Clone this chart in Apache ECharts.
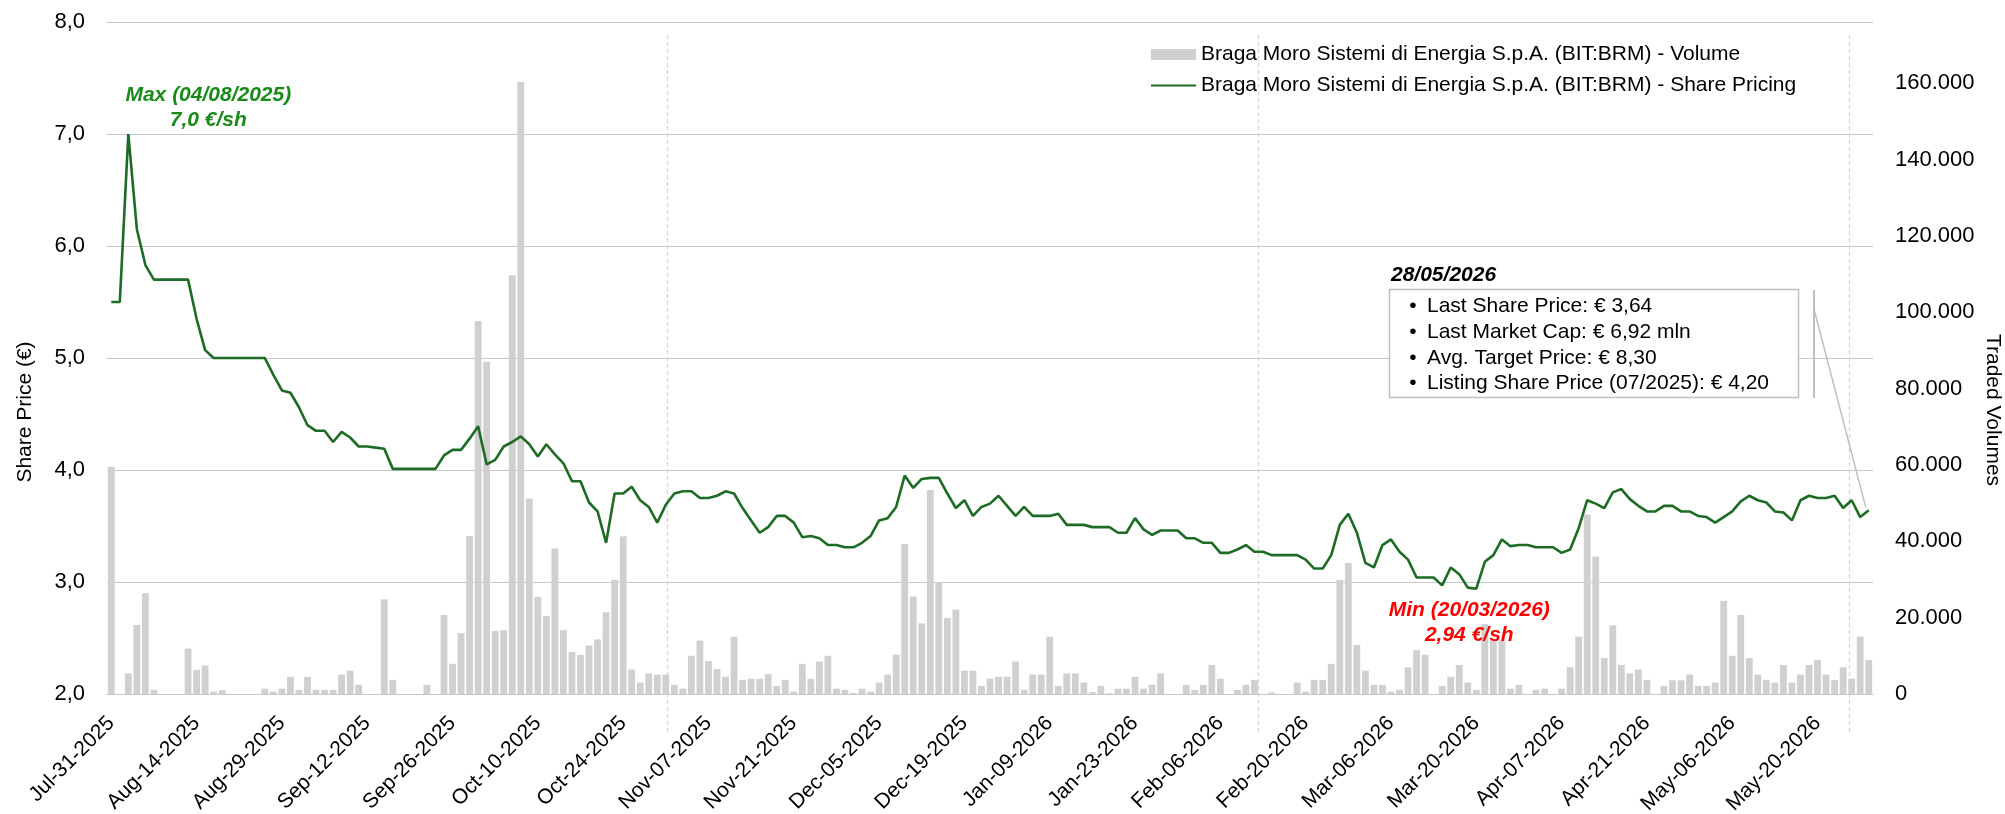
<!DOCTYPE html>
<html>
<head>
<meta charset="utf-8">
<title>Braga Moro Sistemi di Energia - Share Price</title>
<script src="https://cdn.jsdelivr.net/npm/echarts@6/dist/echarts.min.js"></script>
<style>
html, body { margin: 0; padding: 0; background: #fff; }
#chart { width: 2005px; height: 814px; }
</style>
</head>
<body>
<div id="chart"></div>
<script>
// trading calendar (Borsa Italiana), Jul 31 2025 -> May 28 2026
var firstDay = '2025-07-31';
var lastDay = '2026-05-28';
var marketHolidays = ['2025-08-15', '2025-12-24', '2025-12-25', '2025-12-26', '2025-12-31',
    '2026-01-01', '2026-04-03', '2026-04-06', '2026-05-01'];
var monthNames = ['Jan', 'Feb', 'Mar', 'Apr', 'May', 'Jun', 'Jul', 'Aug', 'Sep', 'Oct', 'Nov', 'Dec'];

// closing price, € per share
var sharePrice = [
    5.50, 5.50, 7.00, 6.15, 5.83, 5.70, 5.70, 5.70, 5.70, 5.70,
    5.35, 5.07, 5.00, 5.00, 5.00, 5.00, 5.00, 5.00, 5.00, 4.85,
    4.71, 4.69, 4.56, 4.40, 4.35, 4.35, 4.25, 4.34, 4.29, 4.21,
    4.21, 4.20, 4.19, 4.01, 4.01, 4.01, 4.01, 4.01, 4.01, 4.13,
    4.18, 4.18, 4.28, 4.39, 4.05, 4.09, 4.21, 4.25, 4.30, 4.23,
    4.12, 4.23, 4.14, 4.06, 3.90, 3.90, 3.71, 3.63, 3.35, 3.79,
    3.79, 3.85, 3.73, 3.67, 3.53, 3.69, 3.79, 3.81, 3.81, 3.75,
    3.75, 3.77, 3.81, 3.79, 3.66, 3.55, 3.44, 3.49, 3.59, 3.59,
    3.53, 3.40, 3.41, 3.39, 3.33, 3.33, 3.31, 3.31, 3.35, 3.41,
    3.55, 3.57, 3.67, 3.95, 3.84, 3.92, 3.93, 3.93, 3.79, 3.66,
    3.73, 3.59, 3.67, 3.70, 3.77, 3.68, 3.59, 3.67, 3.59, 3.59,
    3.59, 3.61, 3.51, 3.51, 3.51, 3.49, 3.49, 3.49, 3.44, 3.44,
    3.57, 3.47, 3.42, 3.46, 3.46, 3.46, 3.39, 3.39, 3.35, 3.35,
    3.26, 3.26, 3.29, 3.33, 3.27, 3.27, 3.24, 3.24, 3.24, 3.24,
    3.20, 3.12, 3.12, 3.24, 3.51, 3.61, 3.44, 3.17, 3.13, 3.33,
    3.38, 3.27, 3.20, 3.04, 3.04, 3.04, 2.97, 3.13, 3.07, 2.95,
    2.94, 3.18, 3.24, 3.38, 3.32, 3.33, 3.33, 3.31, 3.31, 3.31,
    3.26, 3.29, 3.48, 3.73, 3.70, 3.66, 3.80, 3.83, 3.74, 3.68,
    3.63, 3.63, 3.68, 3.68, 3.63, 3.63, 3.59, 3.58, 3.53, 3.58,
    3.63, 3.72, 3.77, 3.73, 3.71, 3.63, 3.62, 3.55, 3.73, 3.77,
    3.75, 3.75, 3.77, 3.66, 3.73, 3.58, 3.64
];

// traded volumes, shares
var tradedVolume = [
    59500, 0, 5400, 18100, 26400, 1100, 0, 0, 0, 11900,
    6300, 7500, 600, 1000, 0, 0, 0, 0, 1400, 600,
    1400, 4500, 1100, 4500, 1100, 1100, 1100, 5100, 6100, 2400,
    0, 0, 24800, 3700, 0, 0, 0, 2400, 0, 20700,
    7900, 15900, 41400, 97700, 87000, 16500, 16700, 109700, 160300, 51200,
    25400, 20400, 38100, 16700, 11000, 10200, 12700, 14300, 21400, 29900,
    41300, 6400, 3000, 5400, 5100, 5100, 2400, 1400, 10000, 14000,
    8600, 6500, 4500, 15000, 3700, 4000, 4000, 5200, 2100, 3700,
    600, 7900, 4000, 8500, 10000, 1400, 1100, 300, 1400, 600,
    3000, 5100, 10300, 39300, 25500, 18500, 53400, 29300, 19900, 22100,
    6100, 6100, 2100, 4000, 4500, 4500, 8500, 1100, 5100, 5100,
    15000, 2100, 5400, 5400, 3000, 500, 2100, 200, 1400, 1400,
    4500, 1400, 2400, 5400, 0, 0, 2400, 1100, 2400, 7600,
    4000, 0, 1100, 2400, 3700, 0, 400, 0, 0, 3000,
    600, 3700, 3700, 7900, 29900, 34300, 12800, 6100, 2400, 2400,
    600, 1100, 7000, 11500, 10300, 0, 2100, 4500, 7600, 3000,
    1100, 18300, 14000, 14000, 1400, 2400, 0, 1100, 1400, 0,
    1400, 7000, 15000, 47000, 36000, 9400, 18000, 7600, 5400, 6400,
    3700, 0, 2100, 3600, 3600, 5100, 2100, 2100, 3000, 24400,
    10000, 20700, 9400, 5100, 3700, 3000, 7600, 3000, 5100, 7600,
    8900, 5100, 3700, 7000, 4000, 15000, 8900
];

// dashed separators, in category units
var dividerAt = [65.1, 134.4, 203.7];

var infoDate = '28/05/2026';
var infoLines = [
    'Last Share Price: € 3,64',
    'Last Market Cap: € 6,92 mln',
    'Avg. Target Price: € 8,30',
    'Listing Share Price (07/2025): € 4,20'
];

var volName = 'Braga Moro Sistemi di Energia S.p.A. (BIT:BRM) - Volume';
var priceName = 'Braga Moro Sistemi di Energia S.p.A. (BIT:BRM) - Share Pricing';
var fontName = '"Liberation Sans", Arial, Helvetica, sans-serif';

function buildTradingDays(start, end, holidays) {
    var out = [];
    var d = new Date(start + 'T00:00:00Z');
    var stop = new Date(end + 'T00:00:00Z');
    while (d <= stop) {
        var iso = d.toISOString().slice(0, 10);
        var wd = d.getUTCDay();
        if (wd !== 0 && wd !== 6 && holidays.indexOf(iso) < 0) {
            var dd = ('0' + d.getUTCDate()).slice(-2);
            out.push(monthNames[d.getUTCMonth()] + '-' + dd + '-' + d.getUTCFullYear());
        }
        d.setUTCDate(d.getUTCDate() + 1);
    }
    return out;
}

function fmtThousands(v) {
    return String(Math.round(v)).replace(/\B(?=(\d{3})+(?!\d))/g, '.');
}

var tradingDays = buildTradingDays(firstDay, lastDay, marketHolidays);

var chart = echarts.init(document.getElementById('chart'), null, { renderer: 'canvas' });

var option = {
    animation: false,
    backgroundColor: '#fff',
    textStyle: { fontFamily: fontName },
    grid: { left: 107, right: 132, top: 22, bottom: 120, containLabel: false, outerBoundsMode: 'none' },
    legend: {
        orient: 'vertical',
        left: 1150,
        top: 44,
        padding: 0,
        itemWidth: 45,
        itemHeight: 11,
        itemGap: 10,
        textStyle: { fontSize: 21, color: '#000', fontFamily: fontName },
        data: [
            { name: volName, icon: 'rect' },
            // line only, no marker in the key
            { name: priceName, itemStyle: { color: 'rgba(0,0,0,0)', borderColor: 'rgba(0,0,0,0)', borderWidth: 0, opacity: 0 } }
        ]
    },
    xAxis: [{
        type: 'category',
        data: tradingDays,
        boundaryGap: true,
        axisTick: { show: false },
        axisLine: { show: true, lineStyle: { color: '#c8c8c8', width: 1 } },
        axisLabel: { interval: 9, rotate: 45, fontSize: 21, color: '#000', margin: 26, fontFamily: fontName },
        splitLine: { show: false }
    }],
    yAxis: [{
        type: 'value',
        min: 2,
        max: 8,
        interval: 1,
        axisLine: { show: false },
        axisTick: { show: false },
        axisLabel: {
            margin: 22, fontSize: 22, color: '#000', fontFamily: fontName,
            formatter: function (v) { return v.toFixed(1).replace('.', ','); }
        },
        splitLine: { show: true, lineStyle: { color: '#c8c8c8', width: 1 } }
    }, {
        type: 'value',
        position: 'right',
        min: 0,
        max: 176000,
        interval: 20000,
        axisLine: { show: false },
        axisTick: { show: false },
        splitLine: { show: false },
        axisLabel: {
            margin: 22, fontSize: 22, color: '#000', fontFamily: fontName,
            showMaxLabel: false, formatter: fmtThousands
        }
    }],
    series: [{
        name: volName,
        type: 'bar',
        yAxisIndex: 1,
        data: tradedVolume,
        barCategoryGap: '20%',
        itemStyle: { color: '#d0d0d0' },
        z: 1
    }, {
        name: priceName,
        type: 'line',
        yAxisIndex: 0,
        data: sharePrice,
        symbol: 'none',
        smooth: false,
        lineStyle: { color: '#1e6b25', width: 2.6 },
        itemStyle: { color: '#1e6b25' },
        z: 3,
        markPoint: {
            symbol: 'circle',
            symbolSize: 1,
            itemStyle: { color: 'rgba(0,0,0,0)' },
            label: {
                show: true, position: 'inside', fontSize: 21, fontWeight: 'bold', fontStyle: 'italic',
                lineHeight: 25, align: 'center', verticalAlign: 'middle', fontFamily: fontName
            },
            data: [{
                type: 'max',
                label: { offset: [80, -26], color: '#1a8a1a', formatter: 'Max (04/08/2025)\n7,0 €/sh' }
            }, {
                type: 'min',
                label: { offset: [-7, 34], color: '#ff0000', formatter: 'Min (20/03/2026)\n2,94 €/sh' }
            }]
        }
    }]
};

chart.setOption(option);

// overlay: axis titles, info box, callout, dashed separators
var gfx = [];
gfx.push({
    type: 'text', x: 25, y: 412, rotation: Math.PI / 2, z: 10,
    style: { text: 'Share Price (€)', fontSize: 21, fontFamily: fontName, fill: '#000', align: 'center', verticalAlign: 'middle' }
});
gfx.push({
    type: 'text', x: 1993, y: 410, rotation: -Math.PI / 2, z: 10,
    style: { text: 'Traded Volumes', fontSize: 21, fontFamily: fontName, fill: '#000', align: 'center', verticalAlign: 'middle' }
});

var plotTop = chart.convertToPixel({ yAxisIndex: 0 }, 8);
var plotBottom = chart.convertToPixel({ yAxisIndex: 0 }, 2);
for (var k = 0; k < dividerAt.length; k++) {
    var f = dividerAt[k];
    var i0 = Math.floor(f);
    var p0 = chart.convertToPixel({ xAxisIndex: 0 }, i0);
    var p1 = chart.convertToPixel({ xAxisIndex: 0 }, i0 + 1);
    var px = Math.round(p0 + (p1 - p0) * (f - i0)) + 0.5;
    gfx.push({
        type: 'line', z: 0, silent: true,
        shape: { x1: px, y1: plotTop + 13, x2: px, y2: plotBottom + 38 },
        style: { stroke: '#d4d4d4', lineWidth: 1.2, lineDash: [4, 3] }
    });
}

var lastIdx = sharePrice.length - 1;
var lastPt = chart.convertToPixel({ seriesIndex: 1 }, [lastIdx, sharePrice[lastIdx]]);
gfx.push({
    type: 'line', z: 5, silent: true,
    shape: { x1: 1814, y1: 290, x2: 1814, y2: 398 },
    style: { stroke: '#bfbfbf', lineWidth: 2 }
});
gfx.push({
    type: 'line', z: 5, silent: true,
    shape: { x1: 1814, y1: 309, x2: lastPt[0] - 3, y2: lastPt[1] - 3 },
    style: { stroke: '#bfbfbf', lineWidth: 1.5 }
});
gfx.push({
    type: 'rect', z: 6,
    shape: { x: 1389.5, y: 289.5, width: 409, height: 108 },
    style: { fill: '#fff', stroke: '#bfbfbf', lineWidth: 1.5 }
});
gfx.push({
    type: 'text', x: 1391, y: 275, z: 7,
    style: { text: infoDate, fontSize: 21, fontWeight: 'bold', fontStyle: 'italic', fontFamily: fontName, fill: '#000', align: 'left', verticalAlign: 'middle' }
});
for (var r = 0; r < infoLines.length; r++) {
    var ly = 306 + r * 25.9;
    gfx.push({
        type: 'text', x: 1413, y: ly, z: 7,
        style: { text: '•', fontSize: 21, fontFamily: fontName, fill: '#000', align: 'center', verticalAlign: 'middle' }
    });
    gfx.push({
        type: 'text', x: 1427, y: ly, z: 7,
        style: { text: infoLines[r], fontSize: 21, fontFamily: fontName, fill: '#000', align: 'left', verticalAlign: 'middle' }
    });
}

chart.setOption({ graphic: gfx });
</script>
</body>
</html>
